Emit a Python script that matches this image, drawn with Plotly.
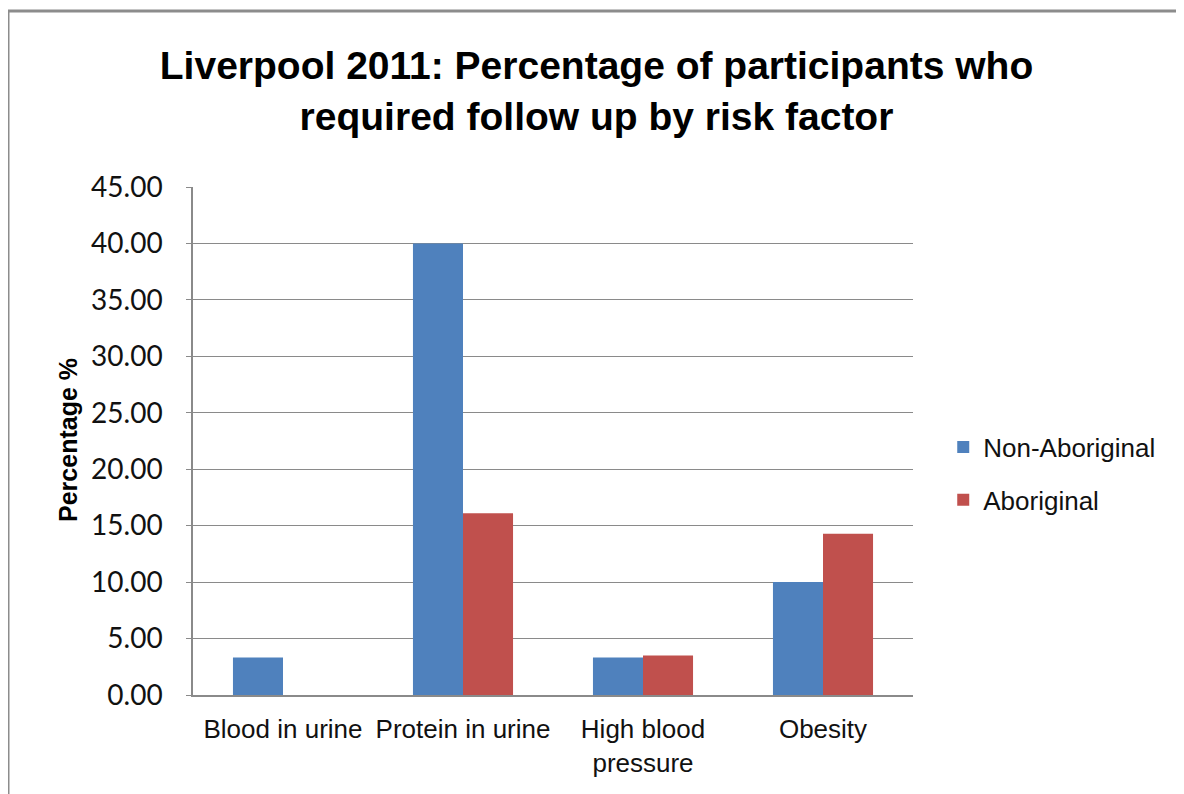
import plotly.graph_objects as go

categories = ["Blood in urine", "Protein in urine", "High blood<br>pressure", "Obesity"]
non_aboriginal = [3.33, 40.00, 3.33, 10.00]
aboriginal = [0.00, 16.10, 3.50, 14.29]
series_names = ["Non-Aboriginal", "Aboriginal"]
y_ticks = [0, 5, 10, 15, 20, 25, 30, 35, 40, 45]

BLUE = "#4F81BD"
RED = "#C0504D"
GRID = "#8A8A8A"

W, H = 1176, 786

fig = go.Figure()
fig.add_trace(go.Bar(x=categories, y=non_aboriginal, name=series_names[0],
                     marker=dict(color=BLUE, line=dict(width=0)), legendgroup="a"))
fig.add_trace(go.Bar(x=categories, y=aboriginal, name=series_names[1],
                     marker=dict(color=RED, line=dict(width=0)), legendgroup="b"))

fig.update_layout(
    width=W, height=H,
    margin=dict(l=185, r=271, t=179, b=99, autoexpand=False),
    paper_bgcolor="white", plot_bgcolor="white",
    barmode="group", bargap=0.444, bargroupgap=0,
    title=dict(text="<b>Liverpool 2011: Percentage of participants who<br>required follow up by risk factor</b>",
               x=588.5 / W, xref="container", xanchor="center",
               y=1 - 71 / H, yref="container", yanchor="middle",
               font=dict(family="Liberation Sans, Arial", size=39, color="black")),
    legend=dict(x=1.042, xanchor="left", y=0.436, yanchor="middle",
                font=dict(family="Liberation Sans, Arial", size=26, color="#111"),
                traceorder="grouped", tracegroupgap=16, bgcolor="rgba(0,0,0,0)"),
    showlegend=True,
)

fig.update_xaxes(
    type="category", showgrid=False, showline=True, linecolor=GRID, linewidth=1.5,
    ticks="", tickfont=dict(family="Liberation Sans, Arial", size=26, color="#111"),
    ticklabelstandoff=10,
)
fig.update_yaxes(
    range=[0, 45], tickvals=y_ticks, tickformat=".2f",
    showgrid=True, gridcolor=GRID, gridwidth=1.2,
    showline=True, linecolor=GRID, linewidth=1.5,
    ticks="outside", ticklen=5, tickcolor=GRID,
    tickfont=dict(family="Lato, Open Sans", size=28, color="#111"),
    ticklabelstandoff=18, zeroline=False,
)

fig.add_annotation(text="<b>Percentage %</b>", textangle=-90,
                   x=(60 - 185) / 720, xref="paper", y=0.502, yref="paper",
                   xanchor="center", yanchor="middle", showarrow=False,
                   font=dict(family="Liberation Sans, Arial", size=25, color="black"))

fig.add_shape(type="rect", xref="paper", yref="paper",
              x0=(0 - 185) / 720, x1=2.0, y0=-1.0, y1=(687 - 3) / 508,
              line=dict(color="#8C8C8C", width=3), fillcolor="rgba(0,0,0,0)", layer="below")

fig.write_html("out.html")
